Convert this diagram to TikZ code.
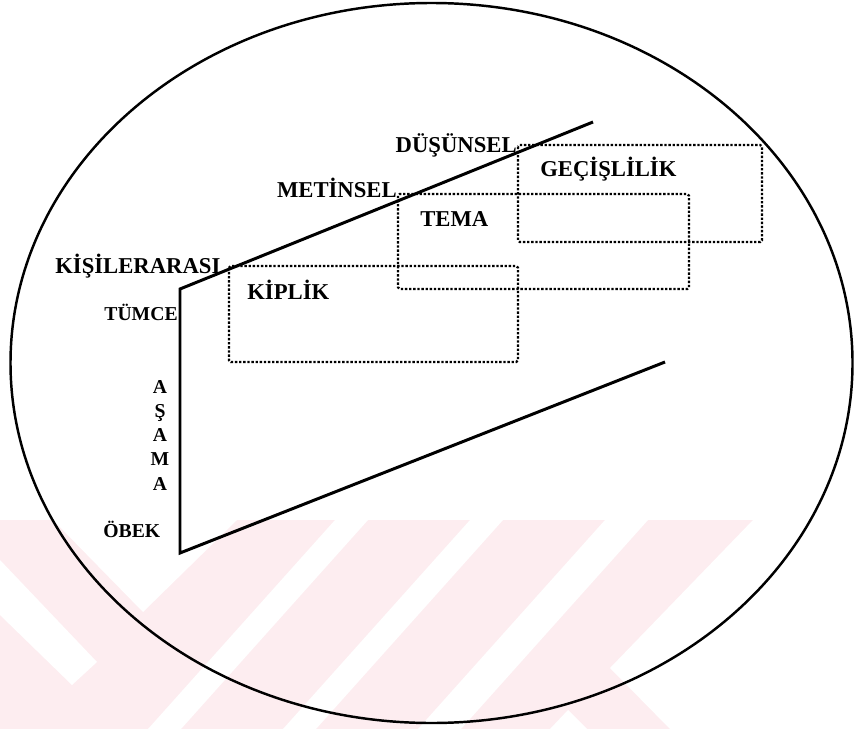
\documentclass[tikz,border=0pt]{standalone}
\usepackage{fontspec}
\setmainfont{Liberation Serif}
\usepackage{tikz}
\definecolor{markPink}{HTML}{FDEDF0}

\begin{document}
\begin{tikzpicture}[x=0.02cm, y=-0.02cm,
  frame/.style={line width=1.7pt, line join=miter},
  oval/.style={line width=1.4pt},
  dotbox/.style={line width=1.35pt, densely dotted, rounded corners=1pt},
  biglabel/.style={inner sep=0pt, font=\fontsize{12.9}{15}\selectfont\bfseries},
  smalllabel/.style={inner sep=0pt, font=\fontsize{11.2}{13}\selectfont\bfseries}]

\useasboundingbox (0,0) rectangle (857,729);

\fill[markPink] (0,520) rectangle (857,729);
\fill[white] (0,560) -- (97,662) -- (72,685) -- (0,615) -- cycle;
\fill[white] (53,520) -- (237,520) -- (143,612) -- cycle;
\fill[white] (335,520) -- (368,520) -- (181,729) -- (148,729) -- cycle;
\fill[white] (470,520) -- (503,520) -- (316,729) -- (283,729) -- cycle;
\fill[white] (605,520) -- (648,520) -- (461,729) -- (418,729) -- cycle;
\fill[white] (753,520) -- (857,520) -- (857,729) -- (670,729) -- (610,668) -- cycle;
\fill[white] (550,729) -- (568,710) -- (587,729) -- cycle;

\draw[oval] (431.5,363) ellipse [x radius=421, y radius=360];

\coordinate (ridge) at (593,122);
\coordinate (corner) at (180,289);
\coordinate (foot) at (180,553);
\coordinate (base) at (665,362);
\draw[frame] (ridge) -- (corner) -- (foot) -- (base);

\draw[dotbox] (229,266) rectangle (518,362);
\draw[dotbox] (398,194) rectangle (689,289);
\draw[dotbox] (518,145) rectangle (762,242);

\node[biglabel, anchor=base east] (dusunsel) at (517,153) {DÜŞÜNSEL};
\node[biglabel, anchor=base east] (metinsel) at (397,198) {METİNSEL};
\node[biglabel, anchor=base west] (kisiler) at (55,273) {KİŞİLERARASI};

\node[biglabel, anchor=base west] (gecis) at (540,177) {GEÇİŞLİLİK};
\node[biglabel, anchor=base west] (tema) at (420,227) {TEMA};
\node[biglabel, anchor=base west] (kiplik) at (247,299) {KİPLİK};

\node[smalllabel, anchor=base east] (tumce) at (178,320) {TÜMCE};
\node[smalllabel, anchor=base west] (obek) at (103,537) {ÖBEK};
\foreach \l [count=\i] in {A,Ş,A,M,A}
  \node[smalllabel, anchor=base] (asama\i) at (160,{393+24.3*(\i-1)}) {\l};

\end{tikzpicture}
\end{document}
